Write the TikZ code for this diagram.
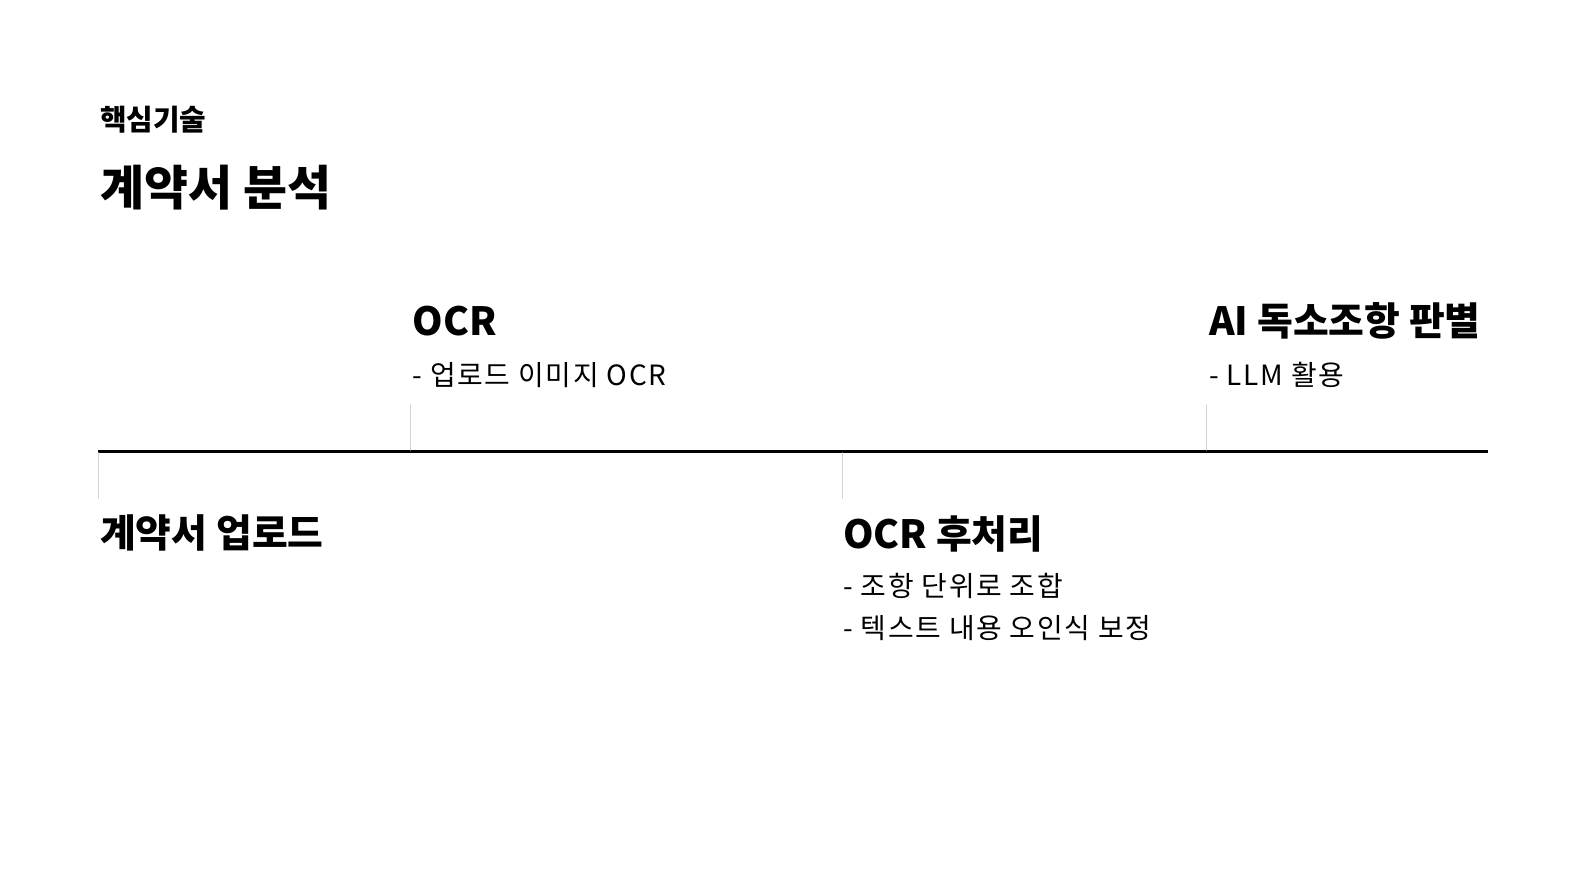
\documentclass[tikz,border=0pt]{standalone}
\usepackage{fontspec}
\setmainfont{Noto Sans CJK KR}
\newfontfamily\notefont[LetterSpace=6]{Noto Sans CJK KR}
\tikzset{
	lbl/.style={anchor=base west, inner sep=0pt},
	stagetitle/.style={lbl, font=\fontsize{39}{46}\selectfont\bfseries},
	stagenote/.style={lbl, align=left, font=\notefont\fontsize{28}{42}\selectfont},
	tick/.style={draw=black!18, line width=1.3bp}
}
\begin{document}
\begin{tikzpicture}[x=1bp, y=-1bp, line cap=round, line join=round]
				\useasboundingbox (0,0) rectangle (1585,877);
				\node[lbl, font=\fontsize{29}{35}\selectfont\bfseries] (kicker) at (100,130) {핵심기술};
				\node[lbl, font=\fontsize{48}{58}\selectfont\bfseries] (head) at (100,205) {계약서 분석};
				% timeline
				\coordinate (L) at (98.3,451.7); \coordinate (R) at (1488,451.7);
				\draw[line width=3.3bp, line cap=butt] (L)--(R);
				% stages above
				\node[stagetitle] (ocr) at (412.5,335) {OCR};
				\node[stagenote] (ocrnote) at (412.5,385) {- 업로드 이미지 OCR};
				\node[stagetitle] (ai) at (1209,335) {AI 독소조항 판별};
				\node[stagenote] (ainote) at (1209,385) {- LLM 활용};
				% stages below
				\node[stagetitle] (up) at (100,547) {계약서 업로드};
				\node[stagetitle] (post) at (843,548) {OCR 후처리};
				\node[stagenote] (postnote) at (843,638) {- 조항 단위로 조합\\- 텍스트 내용 오인식 보정};
				% ticks
				\coordinate (A) at (410.7,405); \coordinate (A') at (410.7,450);
				\coordinate (B) at (98.3,453); \coordinate (B') at (98.3,498);
				\coordinate (C) at (842.3,453); \coordinate (C') at (842.3,498);
				\coordinate (D) at (1206.7,405); \coordinate (D') at (1206.7,450);
				\draw[tick] (A)--(A') (B)--(B') (C)--(C') (D)--(D');
			\end{tikzpicture}
\end{document}
